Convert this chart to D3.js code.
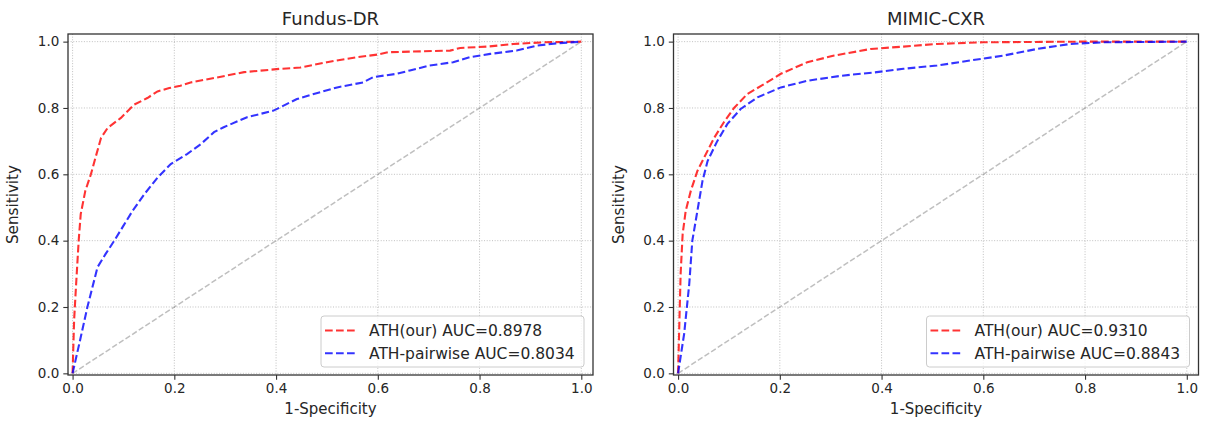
<!DOCTYPE html>
<html>
<head>
<meta charset="utf-8">
<script src="https://cdn.jsdelivr.net/npm/d3@7"></script>
<style>
  body { margin: 0; background: #fff; }
  svg text { font-family: "DejaVu Sans", sans-serif; fill: #262626; }
</style>
</head>
<body>
<div id="chart"></div>
<script>
// ROC points, [1-specificity, sensitivity]
const fundusOurs = [[0,0],[0.003,0.16],[0.007,0.27],[0.012,0.40],[0.016,0.48],[0.025,0.55],[0.036,0.60],
  [0.045,0.65],[0.056,0.71],[0.069,0.74],[0.095,0.77],[0.121,0.81],[0.147,0.83],[0.167,0.85],[0.19,0.86],
  [0.212,0.867],[0.232,0.877],[0.284,0.892],[0.337,0.908],[0.408,0.918],[0.448,0.922],[0.5,0.938],
  [0.558,0.953],[0.6,0.961],[0.62,0.968],[0.742,0.973],[0.762,0.981],[0.815,0.985],[0.867,0.993],
  [0.926,0.998],[1,1]];
const fundusPairwise = [[0,0],[0.013,0.088],[0.029,0.199],[0.049,0.32],[0.065,0.36],[0.082,0.40],
  [0.098,0.44],[0.118,0.49],[0.141,0.54],[0.167,0.59],[0.193,0.631],[0.225,0.661],[0.252,0.691],
  [0.278,0.727],[0.297,0.742],[0.343,0.772],[0.395,0.792],[0.441,0.827],[0.474,0.842],[0.52,0.862],
  [0.571,0.877],[0.591,0.893],[0.637,0.903],[0.663,0.913],[0.702,0.928],[0.748,0.938],[0.781,0.953],
  [0.821,0.963],[0.873,0.973],[0.913,0.988],[0.952,0.995],[1,1]];
const mimicOurs = [[0,0],[0.002,0.12],[0.005,0.30],[0.009,0.42],[0.015,0.49],[0.025,0.55],[0.038,0.61],
  [0.051,0.65],[0.071,0.71],[0.09,0.757],[0.11,0.80],[0.136,0.842],[0.169,0.872],[0.202,0.903],
  [0.254,0.938],[0.307,0.958],[0.379,0.978],[0.443,0.985],[0.509,0.993],[0.6,0.998],[0.796,1.0],[1,1]];
const mimicPairwise = [[0,0],[0.012,0.12],[0.022,0.27],[0.028,0.40],[0.038,0.49],[0.048,0.58],
  [0.058,0.64],[0.077,0.70],[0.097,0.752],[0.123,0.797],[0.156,0.832],[0.202,0.862],[0.254,0.882],
  [0.32,0.897],[0.385,0.907],[0.443,0.918],[0.509,0.928],[0.574,0.943],[0.64,0.958],[0.706,0.978],
  [0.771,0.993],[0.837,0.998],[1,1]];
const chance = [[0,0],[1,1]];

const titles = ['Fundus-DR', 'MIMIC-CXR'];
const legendLabels = [
  ['ATH(our) AUC=0.8978', 'ATH-pairwise AUC=0.8034'],
  ['ATH(our) AUC=0.9310', 'ATH-pairwise AUC=0.8843']
];
const tickValues = [0, 0.2, 0.4, 0.6, 0.8, 1.0];

const W = 1211, H = 435;
const svg = d3.select('#chart').append('svg')
  .attr('width', W)
  .attr('height', H);

const panels = [
  {left: 68, curves: [fundusOurs, fundusPairwise]},
  {left: 673.5, curves: [mimicOurs, mimicPairwise]}
];
const pw = 525, plotTop = 34, plotBottom = 375;
const colors = ['#ff0000', '#0000ff'];

panels.forEach((p, i) => {
  const g = svg.append('g');
  const x = d3.scaleLinear().domain([-0.009, 1.023]).range([p.left, p.left + pw]);
  const y = d3.scaleLinear().domain([-0.005, 1.023]).range([plotBottom, plotTop]);

  // dotted grid
  g.append('g').selectAll('line')
    .data(tickValues).enter().append('line')
    .attr('x1', d => x(d)).attr('x2', d => x(d))
    .attr('y1', plotTop).attr('y2', plotBottom)
    .attr('stroke', '#b0b0b0').attr('stroke-width', 0.8)
    .attr('stroke-dasharray', '1,1.65');
  g.append('g').selectAll('line')
    .data(tickValues).enter().append('line')
    .attr('y1', d => y(d)).attr('y2', d => y(d))
    .attr('x1', p.left).attr('x2', p.left + pw)
    .attr('stroke', '#b0b0b0').attr('stroke-width', 0.8)
    .attr('stroke-dasharray', '1,1.65');

  let line = d3.line().x(d => x(d[0])).y(d => y(d[1]));

  g.append('path')
    .attr('d', line(chance))
    .attr('fill', 'none')
    .attr('stroke', '#808080')
    .attr('stroke-opacity', 0.5)
    .attr('stroke-width', 1.5)
    .attr('stroke-dasharray', '5.5,2.4');

  p.curves.forEach((c, k) => {
    g.append('path')
      .attr('d', line(c))
      .attr('fill', 'none')
      .attr('stroke', colors[k])
      .attr('stroke-opacity', 0.8)
      .attr('stroke-width', 2.1)
      .attr('stroke-dasharray', '7.7,3.3');
  });

  // axes
  let xAxis = d3.axisBottom(x).tickValues(tickValues).tickFormat(d3.format('.1f'))
    .tickSize(4.7).tickPadding(4);
  let yAxis = d3.axisLeft(y).tickValues(tickValues).tickFormat(d3.format('.1f'))
    .tickSize(4.7).tickPadding(4);
  let ax = g.append('g').attr('transform', `translate(0,${plotBottom})`).call(xAxis);
  let ay = g.append('g').attr('transform', `translate(${p.left},0)`).call(yAxis);
  [ax, ay].forEach(a => {
    a.select('.domain').remove();
    a.selectAll('.tick line').attr('stroke', '#333').attr('stroke-width', 1.1);
    a.selectAll('.tick text').attr('font-size', 13.5).attr('fill', '#262626')
      .style('font-family', '"DejaVu Sans", sans-serif');
  });

  // frame
  g.append('rect')
    .attr('x', p.left).attr('y', plotTop)
    .attr('width', pw).attr('height', plotBottom - plotTop)
    .attr('fill', 'none')
    .attr('stroke', '#333')
    .attr('stroke-width', 1.3);

  let cx = p.left + pw / 2;
  g.append('text')
    .attr('x', cx).attr('y', 25)
    .attr('text-anchor', 'middle')
    .attr('font-size', 18)
    .text(titles[i]);
  g.append('text')
    .attr('x', cx).attr('y', 414)
    .attr('text-anchor', 'middle')
    .attr('font-size', 15)
    .text('1-Specificity');
  g.append('text')
    .attr('transform', `translate(${p.left - 50},${(plotTop + plotBottom) / 2}) rotate(-90)`)
    .attr('text-anchor', 'middle')
    .attr('font-size', 15.2)
    .text('Sensitivity');

  // legend
  let lx = p.left + pw - 9 - 263, ly = 316;
  let lg = g.append('g').attr('transform', `translate(${lx},${ly})`);
  lg.append('rect')
    .attr('width', 263).attr('height', 51)
    .attr('rx', 3)
    .attr('fill', '#fff').attr('fill-opacity', 0.8)
    .attr('stroke', '#cccccc').attr('stroke-width', 1);
  legendLabels[i].forEach((lab, k) => {
    let yy = 14.5 + k * 22.7;
    lg.append('line')
      .attr('x1', 4).attr('x2', 36)
      .attr('y1', yy).attr('y2', yy)
      .attr('stroke', colors[k])
      .attr('stroke-opacity', 0.8)
      .attr('stroke-width', 2.1)
      .attr('stroke-dasharray', '7.7,3.3');
    lg.append('text')
      .attr('x', 48).attr('y', yy)
      .attr('dy', '0.35em')
      .attr('font-size', 15.5)
      .text(lab);
  });
});
</script>
</body>
</html>
